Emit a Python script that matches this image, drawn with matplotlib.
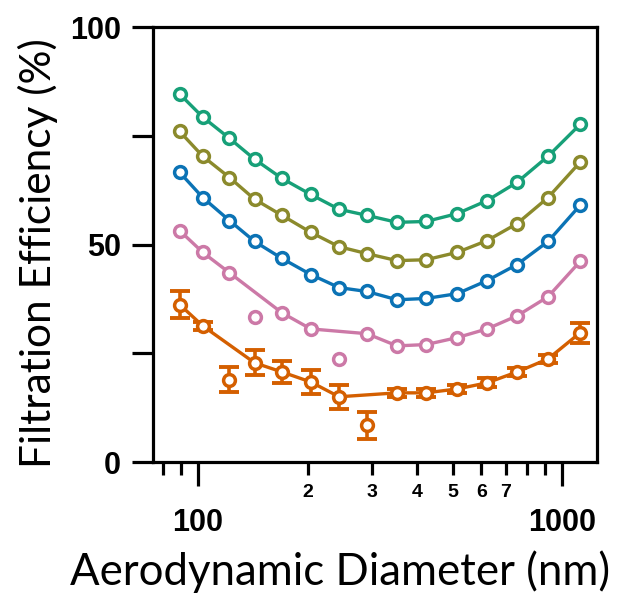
import numpy as np
import matplotlib
matplotlib.use("Agg")
import matplotlib.pyplot as plt
from matplotlib.ticker import FixedLocator

# particle size (nm)
diam = [89, 103, 122, 143, 170, 204, 244, 291, 352, 423, 515, 622, 752, 915, 1120]

# filtration efficiency (%) for each series
green = [84.6, 79.3, 74.4, 69.6, 65.2, 61.5, 58.1, 56.7, 55.1, 55.3, 57.1, 60.1, 64.3, 70.3, 77.6]
olive = [76.0, 70.3, 65.4, 60.4, 56.7, 52.8, 49.5, 47.9, 46.3, 46.5, 48.2, 50.9, 54.8, 60.8, 68.9]
blue = [66.6, 60.8, 55.5, 50.7, 46.8, 43.1, 40.1, 39.2, 37.3, 37.6, 38.7, 41.7, 45.4, 50.7, 59.0]
pink = [53.2, 48.2, 43.5, 33.4, 34.3, 30.6, 23.7, 29.5, 26.7, 27.0, 28.6, 30.6, 33.6, 38.0, 46.1]
orange = [36.2, 31.3, 18.9, 22.8, 20.7, 18.4, 15.0, 8.5, 15.9, 15.9, 16.8, 18.2, 20.7, 23.7, 29.7]
orange_err = [3.2, 1.0, 2.9, 2.9, 2.5, 2.7, 2.8, 3.1, 1.0, 1.0, 1.0, 1.0, 1.0, 1.0, 2.3]

# points left out of the curve
pink_out = [3, 6]
orange_out = [2, 7]

x_major = [100, 1000]
x_minor = [80, 90, 200, 300, 400, 500, 600, 700, 800, 900]
x_minor_labels = ["", "", "2", "3", "4", "5", "6", "7", "", ""]

fig = plt.figure(figsize=(6.25, 5.94), dpi=100)
ax = fig.add_axes([0.2448, 0.2222, 0.7104, 0.7323])

lw = 2.4
mk = dict(marker="o", markersize=8.5, markerfacecolor="white", markeredgewidth=2.5)


def draw(y, color, outliers=(), err=None):
    y = np.array(y, dtype=float)
    x = np.array(diam, dtype=float)
    keep = np.array([i not in outliers for i in range(len(y))])
    ax.plot(x[keep], y[keep], color=color, lw=lw, zorder=2)
    if err is not None:
        ax.errorbar(x, y, yerr=err, fmt="none", ecolor=color, elinewidth=2.6,
                    capsize=7, capthick=2.8, zorder=3)
    ax.plot(x, y, ls="none", color=color, markeredgecolor=color, zorder=4, **mk)


draw(green, "#17a078")
draw(olive, "#8b8a2c")
draw(blue, "#0b73b5")
draw(pink, "#cc79a7", pink_out)
draw(orange, "#d45f00", orange_out, orange_err)

ax.set_xscale("log")
ax.set_xlim(75.2, 1247)
ax.set_ylim(0, 100)

for s in ax.spines.values():
    s.set_linewidth(2.3)

ax.set_yticks([0, 25, 50, 75, 100])
ax.set_yticklabels(["0", "", "50", "", "100"], fontsize=22, fontweight="bold",
                   family="Liberation Sans")
ax.tick_params(axis="y", length=15, width=2.3, pad=8)

ax.xaxis.set_major_locator(FixedLocator(x_major))
ax.xaxis.set_minor_locator(FixedLocator(x_minor))
ax.set_xticklabels(["100", "1000"], fontsize=22, fontweight="bold", family="Liberation Sans")
ax.set_xticklabels(x_minor_labels, minor=True, fontsize=14, fontweight="bold",
                   family="Liberation Sans")
ax.tick_params(axis="x", which="major", length=17, width=2.3, pad=16)
ax.tick_params(axis="x", which="minor", length=9.5, width=2.3, pad=6)

ax.set_xlabel("Aerodynamic Diameter (nm)", fontsize=31.5, family="Lato")
ax.set_ylabel("Filtration Efficiency (%)", fontsize=30.5, family="Lato")
ax.xaxis.set_label_coords(0.421, -0.203)
ax.yaxis.set_label_coords(-0.215, 0.48)

fig.savefig("out.png", dpi=100)
